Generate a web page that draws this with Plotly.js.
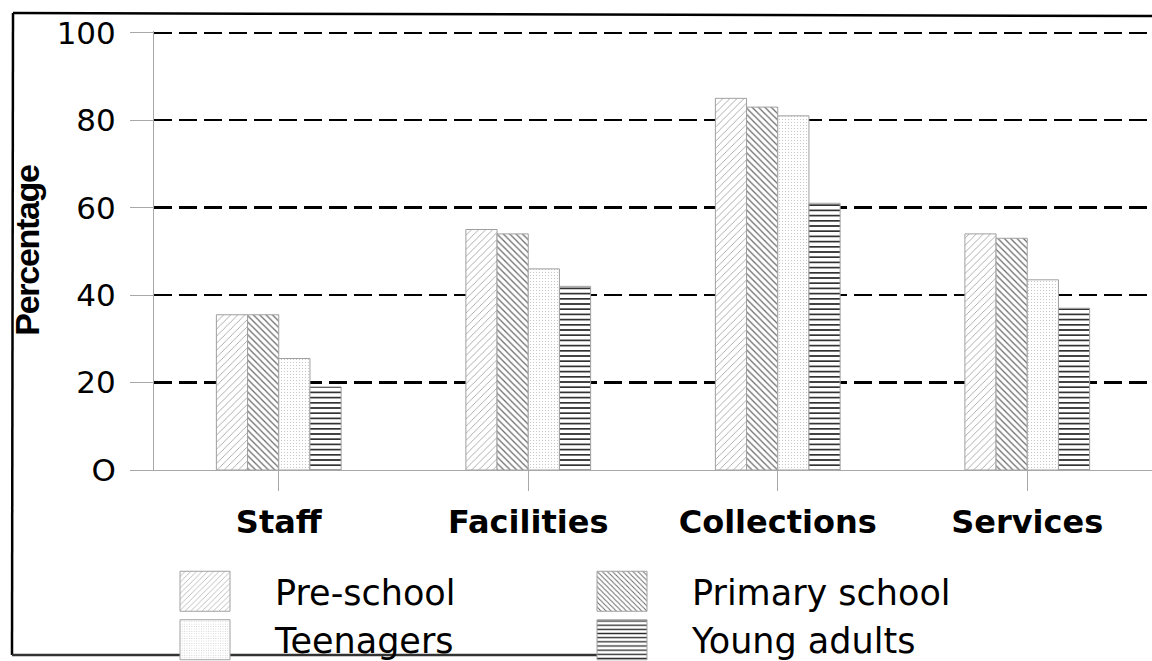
<!DOCTYPE html>
<html>
<head>
<meta charset="utf-8">
<script src="https://cdn.plot.ly/plotly-3.0.1.min.js"></script>
<style>
  html, body { margin: 0; padding: 0; background: #fff; }
  #chart { width: 1152px; height: 661px; }
  .ytitle { letter-spacing: -1.3px; }
</style>
</head>
<body>
<div id="chart"></div>
<script>
// ---- data ----
const categories = ["Staff", "Facilities", "Collections", "Services"];
const preSchool     = [35.5, 55, 85, 54];
const primarySchool = [35.5, 54, 83, 53];
const teenagers     = [25.5, 46, 81, 43.5];
const youngAdults   = [19,   42, 61, 37];
const seriesNames = ["Pre-school", "Primary school", "Teenagers", "Young adults"];
const yTicks = [0, 20, 40, 60, 80, 100];
const yTickText = ["O", "20", "40", "60", "80", "100"];

// ---- styles ----
const patterns = [
  {shape: "/",  fgcolor: "#9a9a9a", size: 5, solidity: 0.16},
  {shape: "\\", fgcolor: "#6a6a6a", size: 4.5, solidity: 0.28},
  {shape: ".",  fgcolor: "#c0c0c0", size: 3, solidity: 0.12},
  {shape: "-",  fgcolor: "#2a2a2a", size: 5.2, solidity: 0.32}
];
const values = [preSchool, primarySchool, teenagers, youngAdults];

const traces = values.map((v, i) => ({
  type: "bar",
  name: seriesNames[i],
  x: categories,
  y: v,
  marker: {
    color: "#ffffff",
    line: {color: "#a0a0a0", width: 1},
    pattern: Object.assign({fillmode: "replace", bgcolor: "#ffffff"}, patterns[i])
  },
  hoverinfo: "x+y+name"
}));

// pixel helpers for decorative frame (plot area: x 154..1152, y 31..470)
const L = 154, R = 1152, T = 31, B = 470;
const px = p => (p - L) / (R - L);
const py = p => (B - p) / (B - T);

const layout = {
  width: 1152,
  height: 661,
  margin: {l: L, r: 1152 - R, t: T, b: 661 - B, pad: 0, autoexpand: false},
  paper_bgcolor: "#ffffff",
  plot_bgcolor: "#ffffff",
  bargap: 0.5,
  bargroupgap: 0,
  showlegend: true,
  legend: {
    orientation: "h",
    x: px(135), xanchor: "left",
    y: py(562), yanchor: "top",
    itemwidth: 130,
    entrywidth: 272,
    font: {family: "DejaVu Sans", size: 35, color: "#000"},
    bgcolor: "rgba(0,0,0,0)",
    traceorder: "normal",
    tracegroupgap: 0
  },
  xaxis: {
    type: "category",
    range: [-0.5, 3.5],
    showgrid: false,
    zeroline: false,
    showline: true,
    linecolor: "#a8a8a8",
    linewidth: 1,
    ticks: "outside",
    ticklen: 20,
    tickcolor: "#a8a8a8",
    tickwidth: 1,
    ticklabelstandoff: 4,
    tickfont: {family: "DejaVu Sans", size: 32, color: "#000", weight: "bold"}
  },
  yaxis: {
    range: [0, 100.4],
    tickvals: yTicks,
    ticktext: yTickText,
    showgrid: true,
    gridcolor: "#000000",
    gridwidth: 2.5,
    griddash: "18px,7px",
    zeroline: true,
    zerolinecolor: "#a8a8a8",
    zerolinewidth: 1,
    showline: true,
    linecolor: "#a8a8a8",
    linewidth: 1,
    ticks: "outside",
    ticklen: 23,
    tickcolor: "#a8a8a8",
    tickwidth: 1,
    ticklabelstandoff: 8,
    tickfont: {family: "DejaVu Sans", size: 31, color: "#000"},
    title: {
      text: "Percentage",
      standoff: 6,
      font: {family: "Liberation Sans, Arial, sans-serif", size: 34, color: "#000", weight: "bold"}
    }
  },
  shapes: [
    {type: "line", xref: "paper", yref: "paper", x0: px(13), y0: py(13), x1: px(1152), y1: py(16), line: {color: "#000", width: 2.5}},
    {type: "line", xref: "paper", yref: "paper", x0: px(13), y0: py(13), x1: px(12), y1: py(655), line: {color: "#000", width: 2.5}},
    {type: "line", xref: "paper", yref: "paper", x0: px(12), y0: py(655), x1: px(598), y1: py(655), line: {color: "#333", width: 2.5}}
  ]
};

Plotly.newPlot("chart", traces, layout, {displayModeBar: false, staticPlot: true}).then(gd => {
  // enlarge the legend swatches to the size of the reference's boxes
  document.querySelectorAll(".legend .legendpoints path").forEach(p => {
    p.setAttribute("d", "M25,20H-25V-20H25Z");
  });
});
</script>
</body>
</html>
